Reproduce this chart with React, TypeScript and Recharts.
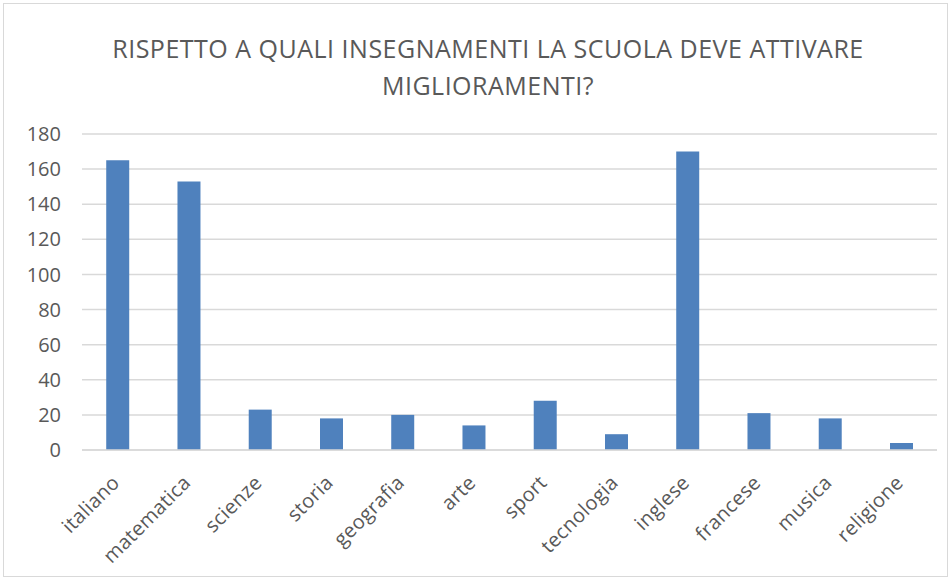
import React from "react";
import { BarChart, Bar, XAxis, YAxis, CartesianGrid } from "recharts";

const TITLE_LINES = [
  "RISPETTO A QUALI INSEGNAMENTI LA SCUOLA DEVE ATTIVARE",
  "MIGLIORAMENTI?",
];

const subjects = [
  "italiano",
  "matematica",
  "scienze",
  "storia",
  "geografia",
  "arte",
  "sport",
  "tecnologia",
  "inglese",
  "francese",
  "musica",
  "religione",
];

const counts = [165, 153, 23, 18, 20, 14, 28, 9, 170, 21, 18, 4];

const yTicks = [0, 20, 40, 60, 80, 100, 120, 140, 160, 180];

const data = subjects.map((s, i) => ({ subject: s, value: counts[i] }));

const FONT = "'Open Sans', 'Liberation Sans', sans-serif";
const TEXT = "#595959";

// eslint-disable-next-line @typescript-eslint/no-explicit-any
function SubjectTick(props: any) {
  const { x, y, payload } = props;
  const ax = x + 3;
  const ay = y + 26;
  return (
    <text
      x={ax}
      y={ay}
      textAnchor="end"
      fill={TEXT}
      fontSize={20}
      fontFamily={FONT}
      letterSpacing={0.3}
      transform={`rotate(-45, ${ax}, ${ay})`}
    >
      {payload.value}
    </text>
  );
}

export default function App() {
  return (
    <div
      style={{
        position: "absolute",
        left: 3,
        top: 3,
        width: 945,
        height: 574,
        border: "1px solid #d9d9d9",
        background: "#fff",
        fontFamily: FONT,
        boxSizing: "border-box",
      }}
    >
      <div
        style={{
          position: "absolute",
          left: 0,
          top: 26,
          width: 968,
          textAlign: "center",
          color: TEXT,
          fontSize: 25,
          letterSpacing: 0.5,
          lineHeight: "37px",
        }}
      >
        {TITLE_LINES.map((l) => (
          <div key={l}>{l}</div>
        ))}
      </div>
      <BarChart
        width={943}
        height={572}
        data={data}
        margin={{ top: 130, right: 10, bottom: 0, left: 0 }}
        barCategoryGap="34%"
      >
        <CartesianGrid vertical={false} stroke="#d9d9d9" strokeWidth={1.5} />
        <XAxis
          dataKey="subject"
          interval={0}
          height={126}
          tickLine={false}
          axisLine={{ stroke: "#d9d9d9", strokeWidth: 1.5 }}
          tick={<SubjectTick />}
        />
        <YAxis
          domain={[0, 180]}
          ticks={yTicks}
          width={78}
          tickLine={false}
          axisLine={false}
          tickSize={0}
          tickMargin={21}
          tick={{ fill: TEXT, fontSize: 20, fontFamily: FONT }}
        />
        <Bar dataKey="value" fill="#4f81bd" isAnimationActive={false} />
      </BarChart>
    </div>
  );
}
